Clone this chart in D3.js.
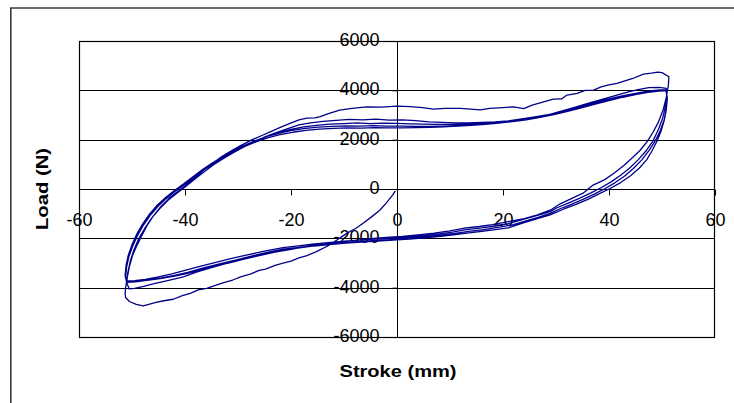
<!DOCTYPE html>
<html><head><meta charset="utf-8">
<script src="https://cdn.jsdelivr.net/npm/d3@7"></script>
<style>
html,body{margin:0;padding:0;background:#fff;overflow:hidden;}
svg{display:block;}
text{font-family:"Liberation Sans",Arial,sans-serif;fill:#000;}
</style></head>
<body>
<svg id="chart" width="734" height="403"></svg>
<script>
// Axis ticks
const xTicks = [-60, -40, -20, 0, 20, 40, 60];
const yTicks = [-6000, -4000, -2000, 0, 2000, 4000, 6000];
const xTitle = "Stroke (mm)";
const yTitle = "Load (N)";

// Test record, one half-cycle per array: [stroke (mm), load (N)]
const pass0 = [[-0.3,-80],[-0.8,-240],[-2,-560],[-3.2,-850],[-4.8,-1130],[-6.4,-1390],[-7.8,-1600],[-8.9,-1730],[-10.2,-1900],[-11.4,-2080],[-13,-2300],[-15.2,-2540],[-17,-2700],[-18.5,-2790],[-20,-2920],[-21.5,-3010],[-23,-3100],[-24.8,-3250],[-26,-3300],[-27.7,-3450],[-29.5,-3560],[-31,-3690],[-33,-3820],[-35.9,-4030],[-37.5,-4090],[-39,-4230],[-40.5,-4320],[-42.2,-4470],[-44,-4530],[-45.5,-4600],[-47,-4690],[-47.9,-4740],[-49.2,-4680],[-50.5,-4560],[-51.2,-4400],[-51.3,-4250]];
const pass1 = [[-51.2,-4000],[-50.9,-3600],[-50.5,-3150],[-49.9,-2700],[-49.2,-2350],[-48.3,-1950],[-47.2,-1500],[-46,-1100],[-44.5,-700],[-43,-380],[-41.5,-120],[-40,120],[-38.2,450],[-36.5,760],[-34.8,1030],[-33.2,1300],[-31.5,1520],[-29.6,1750],[-27.5,1980],[-25.5,2170],[-23.6,2350],[-21.8,2520],[-20.2,2660],[-18.5,2800],[-17,2870],[-15.5,2880],[-14.5,2930],[-12.8,3070],[-10.8,3200],[-8.5,3270],[-5.7,3330],[-3,3320],[0,3360],[2.5,3340],[4.8,3300],[6.9,3240],[9,3270],[12,3270],[15.7,3210],[17.5,3270],[20,3300],[22,3330],[23.9,3260],[25.5,3400],[27.5,3520],[29.5,3640],[31,3650],[32.1,3810],[34,3880],[35.5,4000],[37,4000],[38.5,4140],[40,4220],[41.5,4280],[43,4380],[44.5,4480],[46.5,4660],[48,4700],[49.2,4740],[50,4720],[51.3,4550]];
const pass2 = [[51.2,4200],[50.8,3700],[50.2,3200],[49.3,2700],[48.3,2300],[47.3,1950],[45.8,1550],[44.3,1250],[42.8,950],[41,650],[39.2,380],[37,160],[35.1,-170],[33,-380],[30.8,-600],[29,-850],[26.5,-1050],[24,-1200],[21,-1320],[18,-1440],[15.5,-1520],[13,-1580],[10,-1700],[7,-1790],[4,-1860],[1,-1920],[-2,-1960],[-5,-2010],[-8,-2080],[-11,-2150],[-14,-2230],[-17,-2330],[-20,-2450],[-23,-2560],[-26,-2700],[-29,-2850],[-32,-3010],[-35,-3190],[-38,-3380],[-40.3,-3560],[-43.5,-3720],[-46,-3850],[-48,-3960],[-49.5,-4030],[-50.5,-4050]];
const pass3 = [[-51,-3800],[-50.8,-3400],[-50.3,-2900],[-49.6,-2450],[-48.7,-2000],[-47.6,-1600],[-46.3,-1180],[-44.8,-800],[-43.2,-460],[-41.6,-180],[-40,80],[-38.3,380],[-36.5,680],[-34.6,980],[-32.8,1230],[-30.8,1480],[-28.8,1720],[-26.8,1930],[-24.8,2120],[-22.8,2290],[-20.6,2450],[-18.5,2600],[-16.3,2680],[-14,2740],[-11.5,2780],[-9,2820],[-6.5,2800],[-4,2830],[-1.5,2790],[1,2800],[3.5,2770],[6,2720],[8.5,2700],[11,2680],[13.5,2680],[16,2700],[18.5,2720],[21,2760],[23.5,2840],[26,2920],[28.5,3010],[31,3160],[33.5,3310],[36,3470],[38.5,3620],[41,3780],[43.5,3930],[45.5,4030],[47.5,4110],[49.5,4120],[50.8,4080]];
const pass4 = [[50.9,3750],[50.6,3300],[50.1,2850],[49.3,2400],[48.3,1950],[47,1550],[45.5,1180],[43.9,850],[42.2,560],[40.4,290],[38.5,50],[36.5,-170],[34.4,-380],[32.3,-570],[30.2,-760],[28.9,-920],[26.5,-1070],[24,-1220],[21,-1400],[18.5,-1500],[16,-1580],[13,-1650],[10.5,-1750],[8,-1820],[5,-1890],[2,-1950],[-1,-1990],[-4,-2030],[-7,-2070],[-10,-2110],[-13,-2170],[-16,-2240],[-19,-2320],[-21.5,-2380],[-25,-2520],[-28,-2660],[-31,-2800],[-34,-2960],[-37,-3130],[-40,-3300],[-42.5,-3440],[-45,-3560],[-47.5,-3660],[-49.5,-3720],[-50.8,-3740]];
const pass5 = [[-51.2,-3550],[-51,-3150],[-50.6,-2750],[-49.9,-2330],[-49,-1900],[-47.9,-1480],[-46.6,-1080],[-45.1,-700],[-43.5,-380],[-41.9,-100],[-40.2,160],[-38.4,460],[-36.6,750],[-34.7,1020],[-32.8,1280],[-30.8,1520],[-28.7,1750],[-26.6,1950],[-24.5,2130],[-22.3,2290],[-20,2420],[-17.6,2520],[-15.2,2580],[-12.7,2630],[-10,2650],[-7.5,2680],[-5,2650],[-2.5,2670],[0,2660],[2.5,2640],[5,2630],[7.5,2620],[10,2620],[12.5,2630],[15,2650],[17.5,2680],[20,2720],[22.5,2780],[25,2860],[27.5,2960],[30,3080],[32.5,3220],[35,3370],[37.5,3520],[40,3650],[42.5,3770],[45,3880],[47,3960],[49,4010],[50.7,4030]];
const pass6 = [[51,3700],[50.8,3250],[50.4,2800],[49.7,2380],[48.8,1980],[47.6,1580],[46.2,1180],[44.6,830],[42.9,520],[41.1,250],[39.2,10],[37.2,-210],[35.1,-420],[33,-610],[30.9,-790],[28.9,-990],[26.6,-1150],[24.2,-1300],[21.5,-1470],[19,-1560],[16.4,-1650],[13.5,-1720],[11,-1800],[8.2,-1870],[5.5,-1930],[2.5,-1990],[-0.5,-2040],[-3.5,-2080],[-6.5,-2120],[-9.5,-2170],[-12.5,-2220],[-15.5,-2290],[-18.5,-2370],[-21.5,-2440],[-24.5,-2570],[-27.5,-2720],[-30.5,-2880],[-33.5,-3040],[-36.5,-3200],[-39.5,-3380],[-42,-3500],[-44.5,-3600],[-47,-3680],[-49.2,-3730],[-50.9,-3720]];
const pass7 = [[-51.3,-3500],[-51.1,-3080],[-50.7,-2680],[-50,-2260],[-49.1,-1830],[-48,-1420],[-46.7,-1020],[-45.2,-650],[-43.6,-330],[-42,-60],[-40.3,200],[-38.5,500],[-36.7,790],[-34.8,1060],[-32.9,1310],[-30.9,1550],[-28.8,1770],[-26.7,1960],[-24.5,2130],[-22.2,2270],[-19.8,2380],[-17.3,2460],[-14.8,2510],[-12.2,2540],[-9.6,2560],[-7,2550],[-4.4,2570],[-1.8,2550],[0.8,2550],[3.4,2540],[6,2540],[8.6,2550],[11.2,2570],[13.8,2600],[16.4,2640],[19,2690],[21.6,2750],[24.2,2830],[26.8,2930],[29.4,3050],[32,3180],[34.6,3320],[37.2,3470],[39.8,3600],[42.4,3740],[45,3860],[47.2,3940],[49.2,3990],[50.8,4000]];
const pass8 = [[51,3650],[50.8,3200],[50.4,2760],[49.8,2330],[49,1920],[48.1,1540],[47.1,1180],[45.7,840],[44,530],[42.2,260],[40.2,20],[38.1,-200],[36,-420],[33.8,-620],[31.5,-810],[28.9,-1050],[26.5,-1200],[24,-1360],[21,-1580],[18.5,-1650],[16,-1720],[13.2,-1790],[11,-1850],[8.2,-1920],[5.3,-1980],[2.3,-2030],[-0.7,-2070],[-3.7,-2110],[-6.7,-2150],[-9.7,-2190],[-12.7,-2250],[-15.7,-2310],[-18.7,-2400],[-21.7,-2470],[-24.7,-2620],[-27.7,-2780],[-30.9,-2950],[-33.7,-3100],[-36.7,-3260],[-39.7,-3430],[-42.2,-3540],[-44.7,-3630],[-47.2,-3700],[-49.4,-3760],[-51,-3780]];
const pass9 = [[-51.3,-3520],[-51.1,-3100],[-50.6,-2700],[-49.9,-2280],[-49,-1850],[-47.9,-1440],[-46.6,-1040],[-45.1,-670],[-43.5,-350],[-41.9,-80],[-40.2,180],[-38.4,480],[-36.6,770],[-34.7,1040],[-32.8,1290],[-30.8,1520],[-28.7,1730],[-26.6,1910],[-24.4,2070],[-22.1,2200],[-19.7,2300],[-17.2,2380],[-14.6,2430],[-12,2460],[-9.4,2480],[-6.8,2470],[-4.2,2490],[-1.6,2480],[1,2480],[3.6,2490],[6.2,2500],[8.8,2520],[11.4,2550],[14,2580],[16.6,2620],[19.2,2670],[21.8,2730],[24.4,2800],[27,2900],[29.6,3020],[32.2,3150],[34.8,3290],[37.4,3440],[40,3580],[42.6,3720],[45.2,3840],[47.4,3920],[49.4,3970],[50.9,3990]];

const record = [].concat(pass0, pass1, pass2, pass3, pass4, pass5, pass6, pass7, pass8, pass9);

const svg = d3.select("#chart");
const plot = {left: 79, right: 715, top: 41, bottom: 337};
const x = d3.scaleLinear().domain([-60, 60]).range([plot.left, plot.right]);
const y = d3.scaleLinear().domain([-6000, 6000]).range([plot.bottom, plot.top]);
const fmt = d => String(d);

// outer chart border: left and top edges only (the rest lies outside the picture)
svg.append("line").attr("x1", 10.8).attr("y1", 8).attr("x2", 10.8).attr("y2", 403)
  .attr("stroke", "#3a3a3a").attr("stroke-width", 1.6);
svg.append("line").attr("x1", 10).attr("y1", 8).attr("x2", 734).attr("y2", 8)
  .attr("stroke", "#3a3a3a").attr("stroke-width", 1.6);

// gridlines
svg.append("g").selectAll("line").data(yTicks.filter(v => v !== 0 && Math.abs(v) !== 6000)).join("line")
  .attr("x1", plot.left).attr("x2", plot.right)
  .attr("y1", d => Math.round(y(d)) + 0.5).attr("y2", d => Math.round(y(d)) + 0.5)
  .attr("stroke", "#000").attr("stroke-width", 1);

// plot border
svg.append("rect").attr("x", plot.left + 0.5).attr("y", plot.top + 0.5)
  .attr("width", plot.right - plot.left - 1).attr("height", plot.bottom - plot.top)
  .attr("fill", "none").attr("stroke", "#000").attr("stroke-width", 1.2);

// x axis at load 0
const y0 = Math.round(y(0)) + 0.5;
const xAxis = d3.axisBottom(x).tickValues(xTicks).tickSize(6).tickFormat(fmt);
const gx = svg.append("g").attr("transform", `translate(0,${y0})`).call(xAxis);
gx.select(".domain").attr("stroke", "#000").attr("d", `M${plot.left},0H${plot.right}`);
gx.selectAll(".tick line").attr("stroke", "#000");
gx.selectAll(".tick text").attr("font-size", 18).attr("font-family", "Liberation Sans, Arial, sans-serif")
  .attr("fill", "#000").attr("dy", null).attr("y", 36.5);

// y axis at stroke 0
const x0 = Math.round(x(0)) + 0.5;
const yAxis = d3.axisLeft(y).tickValues(yTicks).tickSize(5).tickPadding(13).tickFormat(fmt);
const gy = svg.append("g").attr("transform", `translate(${x0},0)`).call(yAxis);
gy.select(".domain").attr("stroke", "#000").attr("d", `M0,${plot.top}V${plot.bottom}`);
gy.selectAll(".tick line").attr("stroke", "#000");
gy.selectAll(".tick text").attr("font-size", 18).attr("font-family", "Liberation Sans, Arial, sans-serif")
  .attr("fill", "#000").attr("dy", null).attr("y", 4.5);

// series
const line = d3.line().x(d => x(d[0])).y(d => y(d[1]));
svg.append("path").datum(record).attr("d", line)
  .attr("fill", "none").attr("stroke", "#00008b").attr("stroke-width", 1.3)
  .attr("stroke-linejoin", "round");

// axis titles
svg.append("text").attr("x", 398).attr("y", 377).attr("text-anchor", "middle")
  .attr("font-size", 17).attr("font-weight", "bold")
  .attr("textLength", 117).attr("lengthAdjust", "spacingAndGlyphs").text(xTitle);
svg.append("text").attr("transform", "translate(48,189) rotate(-90)").attr("text-anchor", "middle")
  .attr("font-size", 16).attr("font-weight", "bold")
  .attr("textLength", 82).attr("lengthAdjust", "spacingAndGlyphs").text(yTitle);
</script>
</body></html>
